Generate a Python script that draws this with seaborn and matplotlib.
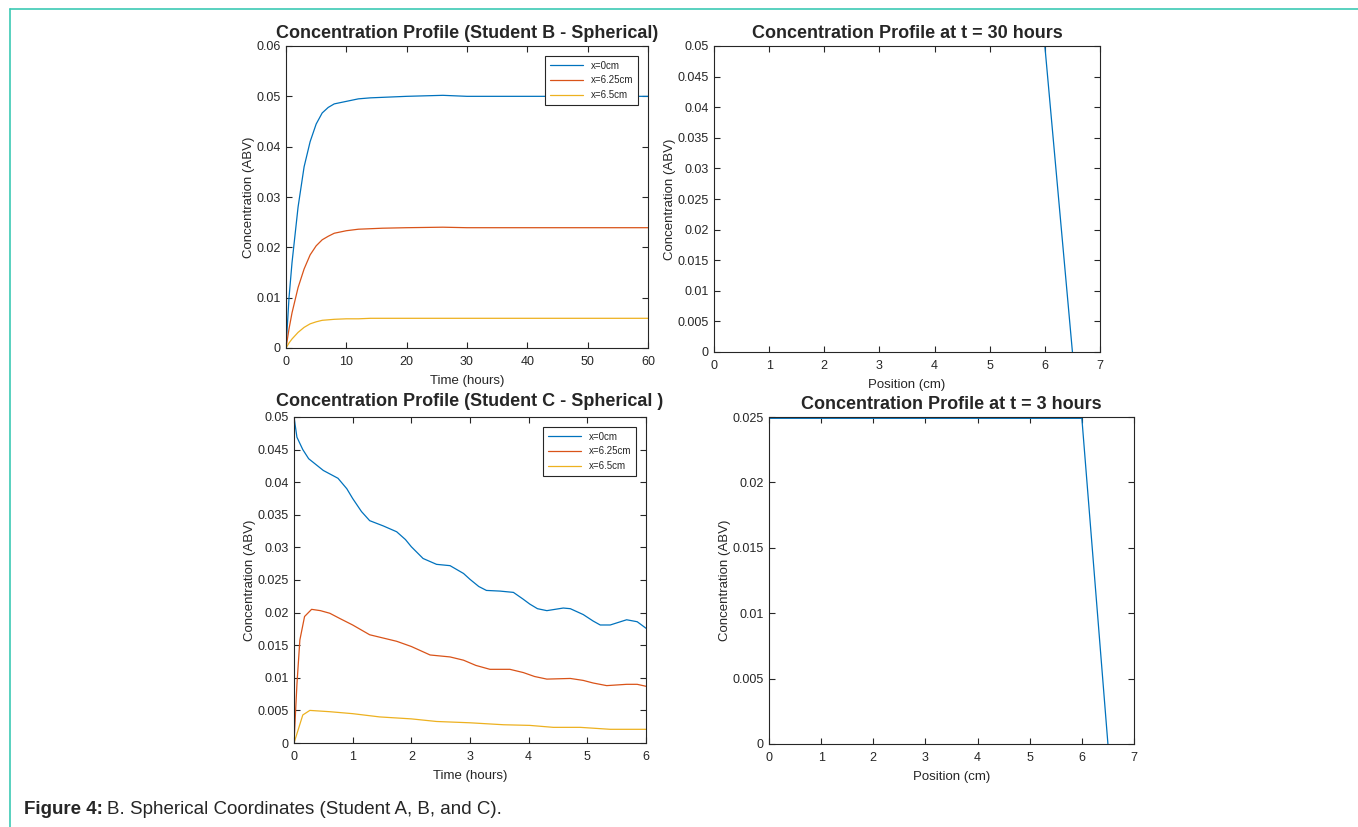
import numpy as np
import pandas as pd
import matplotlib
matplotlib.use("Agg")
import matplotlib.pyplot as plt
from matplotlib.lines import Line2D
from matplotlib.ticker import FuncFormatter
import seaborn as sns

# ---- data ----
# Student B (spherical), concentration vs time at three radial positions
time_b = [0, 0.5, 1, 2, 3, 4, 5, 6, 7, 8, 10, 12, 14, 16, 20, 26, 30, 40, 50, 60]
b_x0 = [0, 0.010, 0.017, 0.028, 0.036, 0.041, 0.0445, 0.0467, 0.0478, 0.0485,
        0.0490, 0.0495, 0.0497, 0.0498, 0.0500, 0.0502, 0.0500, 0.0500, 0.0500, 0.0500]
b_x625 = [0, 0.0038, 0.0070, 0.0120, 0.0157, 0.0185, 0.0203, 0.0215, 0.0222, 0.0228,
          0.0233, 0.0236, 0.0237, 0.0238, 0.0239, 0.0240, 0.0239, 0.0239, 0.0239, 0.0239]
b_x65 = [0, 0.0010, 0.0018, 0.0031, 0.0041, 0.0048, 0.0052, 0.0055, 0.0056, 0.0057,
         0.0058, 0.0058, 0.0059, 0.0059, 0.0059, 0.0059, 0.0059, 0.0059, 0.0059, 0.0059]

# Student C (spherical)
time_c0 = [0, 0.05, 0.15, 0.25, 0.5, 0.75, 0.9, 1.0, 1.15, 1.29, 1.52, 1.75, 1.9, 2.0,
           2.2, 2.43, 2.66, 2.89, 3.0, 3.15, 3.28, 3.51, 3.74, 3.9, 4.02, 4.15, 4.31,
           4.59, 4.71, 4.93, 5.1, 5.22, 5.39, 5.67, 5.85, 6.0]
c_x0 = [0.050, 0.0469, 0.0450, 0.0436, 0.0418, 0.0406, 0.0390, 0.0375, 0.0355, 0.0341,
        0.0333, 0.0324, 0.0312, 0.0301, 0.0283, 0.0274, 0.0272, 0.0260, 0.0251, 0.0240,
        0.0234, 0.0233, 0.0231, 0.0221, 0.0213, 0.0206, 0.0203, 0.0207, 0.0206, 0.0197,
        0.0187, 0.0181, 0.0181, 0.0189, 0.0186, 0.0176]
time_c1 = [0, 0.05, 0.1, 0.18, 0.3, 0.45, 0.61, 0.78, 1.0, 1.29, 1.52, 1.75, 2.0, 2.32,
           2.66, 2.89, 3.1, 3.34, 3.68, 3.91, 4.1, 4.31, 4.71, 4.93, 5.1, 5.33, 5.67,
           5.85, 6.0]
c_x625 = [0, 0.0090, 0.0158, 0.0194, 0.0205, 0.0203, 0.0199, 0.0191, 0.0181, 0.0166,
          0.0161, 0.0156, 0.0148, 0.0135, 0.0132, 0.0127, 0.0119, 0.0113, 0.0113, 0.0108,
          0.0102, 0.0098, 0.0099, 0.0096, 0.0092, 0.0088, 0.0090, 0.0090, 0.0087]
time_c2 = [0, 0.07, 0.15, 0.27, 0.61, 1.0, 1.46, 2.0, 2.43, 3.0, 3.57, 4.02, 4.42,
           4.88, 5.39, 6.0]
c_x65 = [0, 0.0020, 0.0043, 0.0050, 0.0048, 0.0045, 0.0040, 0.0037, 0.0033, 0.0031,
         0.0028, 0.0027, 0.0024, 0.0024, 0.0021, 0.0021]

# position profiles
position = [0, 1, 2, 3, 4, 5, 6, 6.5]
prof_30h = [0.05, 0.05, 0.05, 0.05, 0.05, 0.05, 0.05, 0]
prof_3h = [0.0249, 0.0249, 0.0249, 0.0249, 0.0249, 0.0249, 0.0249, 0]

labels = ["x=0cm", "x=6.25cm", "x=6.5cm"]
colors = ["#0072BD", "#D95319", "#EDB120"]

sns.set_style("white")
plt.rcParams["font.family"] = ["Liberation Sans", "DejaVu Sans"]

fig = plt.figure(figsize=(13.58, 8.27), dpi=100)
W, H = 1358, 827


def box(l, t, r, b):
    return [l / W, 1 - b / H, (r - l) / W, (b - t) / H]


fmt = FuncFormatter(lambda v, p: "%g" % round(v, 6))


def matlab_axes(ax, xlim, ylim, xticks, yticks, title, xlabel, title_pad=6):
    ax.set_xlim(*xlim)
    ax.set_ylim(*ylim)
    ax.set_xticks(xticks)
    ax.set_yticks(yticks)
    ax.yaxis.set_major_formatter(fmt)
    ax.xaxis.set_major_formatter(fmt)
    ax.tick_params(direction="in", bottom=True, left=True, top=True, right=True,
                   length=4, width=0.8, labelsize=9, colors="#262626", pad=4)
    ax.tick_params(axis="x", pad=6)
    for s in ax.spines.values():
        s.set_visible(True)
        s.set_color("#262626")
        s.set_linewidth(0.8)
    ax.set_title(title, fontsize=13, fontweight="bold", pad=title_pad)
    ax.set_xlabel(xlabel, fontsize=9.5, color="#262626", labelpad=5)
    ax.set_ylabel("Concentration (ABV)", fontsize=9.5, color="#262626", labelpad=1)


def legend(ax):
    leg = ax.legend(loc="upper right", fontsize=7, frameon=True, fancybox=False,
                    edgecolor="#262626", facecolor="white", framealpha=1,
                    handlelength=3.4, borderaxespad=1.0,
                    labelspacing=0.5, borderpad=0.5)
    leg.get_frame().set_linewidth(0.8)


# top-left
ax1 = fig.add_axes(box(286, 46, 648, 348))
for y, lab, c in zip([b_x0, b_x625, b_x65], labels, colors):
    sns.lineplot(x=time_b, y=y, ax=ax1, color=c, label=lab, linewidth=0.9)
matlab_axes(ax1, (0, 60), (0, 0.06), [0, 10, 20, 30, 40, 50, 60],
            [0, 0.01, 0.02, 0.03, 0.04, 0.05, 0.06],
            "Concentration Profile (Student B - Spherical)", "Time (hours)")
legend(ax1)

# top-right
ax2 = fig.add_axes(box(714, 46, 1100, 352))
sns.lineplot(x=position, y=prof_30h, ax=ax2, color=colors[0], linewidth=0.9)
matlab_axes(ax2, (0, 7), (0, 0.05), range(0, 8),
            [0, 0.005, 0.01, 0.015, 0.02, 0.025, 0.03, 0.035, 0.04, 0.045, 0.05],
            "Concentration Profile at t = 30 hours", "Position (cm)")

# bottom-left
ax3 = fig.add_axes(box(294, 417, 646, 743))
for x, y, lab, c in zip([time_c0, time_c1, time_c2], [c_x0, c_x625, c_x65], labels, colors):
    sns.lineplot(x=x, y=y, ax=ax3, color=c, label=lab, linewidth=0.9)
matlab_axes(ax3, (0, 6), (0, 0.05), range(0, 7),
            [0, 0.005, 0.01, 0.015, 0.02, 0.025, 0.03, 0.035, 0.04, 0.045, 0.05],
            "Concentration Profile (Student C - Spherical )", "Time (hours)", title_pad=8)
legend(ax3)

# bottom-right
ax4 = fig.add_axes(box(769, 417, 1134, 744))
sns.lineplot(x=position, y=prof_3h, ax=ax4, color=colors[0], linewidth=0.9)
matlab_axes(ax4, (0, 7), (0, 0.025), range(0, 8),
            [0, 0.005, 0.01, 0.015, 0.02, 0.025],
            "Concentration Profile at t = 3 hours", "Position (cm)")

# page frame lines
teal = "#3CC9B4"
fig.add_artist(Line2D([9.5 / W, 1], [1 - 8.5 / H, 1 - 8.5 / H], color=teal, lw=1.2))
fig.add_artist(Line2D([9.5 / W, 9.5 / W], [0, 1 - 8.5 / H], color=teal, lw=1.2))

# caption
t1 = fig.text(24 / W, 1 - 809 / H, "Figure 4:", fontsize=13.5, fontweight="bold",
              va="center", color="#262626")
fig.canvas.draw()
bb = t1.get_window_extent()
fig.text(bb.x1 / W + 4 / W, 1 - 809 / H, "B. Spherical Coordinates (Student A, B, and C).",
         fontsize=13.5, va="center", color="#262626")

fig.savefig("out.png", dpi=100)
